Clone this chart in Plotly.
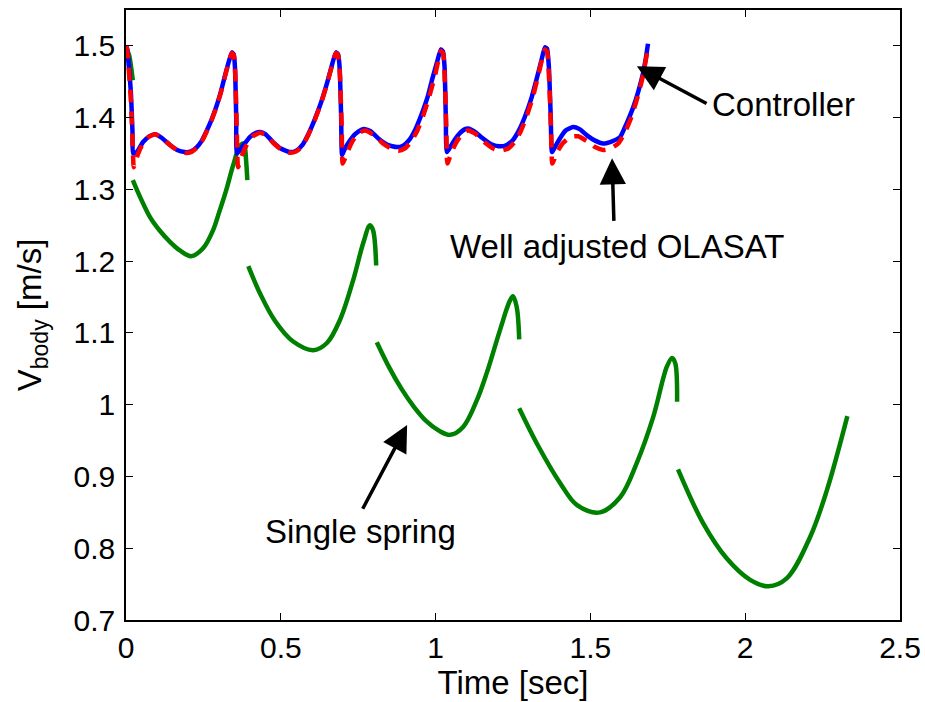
import plotly.graph_objects as go

# Controller (blue, solid)
ctrl_t = [0, 0.003, 0.015, 0.021, 0.023, 0.035, 0.055, 0.075, 0.094, 0.115, 0.142, 0.165, 0.19, 0.21, 0.229, 0.245,
          0.261, 0.277, 0.293, 0.307, 0.320, 0.332, 0.342, 0.348, 0.352, 0.356, 0.358,
          0.365, 0.38, 0.40, 0.42, 0.433, 0.45, 0.475, 0.50, 0.53, 0.55, 0.57, 0.59, 0.61, 0.63, 0.65, 0.665,
          0.678, 0.685, 0.69, 0.695, 0.698,
          0.705, 0.72, 0.74, 0.76, 0.772, 0.79, 0.815, 0.845, 0.875, 0.895, 0.915, 0.935, 0.955, 0.975, 0.99,
          1.005, 1.017, 1.024, 1.029, 1.033, 1.036,
          1.043, 1.06, 1.08, 1.095, 1.105, 1.125, 1.15, 1.18, 1.208, 1.23, 1.25, 1.27, 1.29, 1.31, 1.33, 1.343,
          1.353, 1.36, 1.366, 1.372, 1.376,
          1.383, 1.40, 1.42, 1.444, 1.465, 1.49, 1.515, 1.541, 1.57, 1.596, 1.615, 1.638, 1.655, 1.670, 1.678, 1.686]
ctrl_v = [1.50, 1.497, 1.44, 1.38, 1.350, 1.352, 1.366, 1.374, 1.377, 1.372, 1.362, 1.355, 1.352, 1.353, 1.359, 1.368,
          1.382, 1.398, 1.417, 1.437, 1.459, 1.478, 1.491, 1.488, 1.47, 1.40, 1.350,
          1.353, 1.362, 1.373, 1.379, 1.380, 1.377, 1.366, 1.357, 1.352, 1.354, 1.362, 1.378, 1.398, 1.421, 1.449, 1.473,
          1.491, 1.488, 1.47, 1.40, 1.348,
          1.355, 1.366, 1.377, 1.383, 1.384, 1.381, 1.371, 1.362, 1.359, 1.361, 1.369, 1.384, 1.405, 1.430, 1.455,
          1.478, 1.495, 1.492, 1.47, 1.40, 1.352,
          1.356, 1.368, 1.379, 1.384, 1.385, 1.381, 1.372, 1.363, 1.360, 1.362, 1.369, 1.383, 1.403, 1.428, 1.460, 1.482,
          1.498, 1.496, 1.47, 1.40, 1.352,
          1.357, 1.370, 1.382, 1.387, 1.384, 1.375, 1.368, 1.364, 1.367, 1.373, 1.39, 1.414, 1.437, 1.462, 1.48, 1.503]

# Well adjusted OLASAT (red, dashed)
olasat_t = [0, 0.003, 0.015, 0.022, 0.025, 0.035, 0.05, 0.07, 0.094, 0.115, 0.142, 0.165, 0.19, 0.21, 0.229, 0.245,
            0.261, 0.277, 0.293, 0.307, 0.320, 0.332, 0.342, 0.348, 0.353, 0.358, 0.362,
            0.375, 0.39, 0.41, 0.433, 0.45, 0.475, 0.50, 0.53, 0.55, 0.57, 0.59, 0.61, 0.63, 0.65, 0.665,
            0.678, 0.685, 0.691, 0.697, 0.700,
            0.715, 0.73, 0.75, 0.772, 0.80, 0.83, 0.86, 0.88, 0.90, 0.92, 0.94, 0.96, 0.98, 1.00,
            1.017, 1.024, 1.03, 1.035, 1.038,
            1.05, 1.065, 1.085, 1.105, 1.13, 1.16, 1.19, 1.21, 1.235, 1.255, 1.275, 1.295, 1.315, 1.335,
            1.353, 1.36, 1.367, 1.373, 1.377,
            1.39, 1.41, 1.435, 1.46, 1.49, 1.515, 1.541, 1.565, 1.59, 1.61, 1.63, 1.65, 1.668, 1.683]
olasat_v = [1.50, 1.497, 1.43, 1.36, 1.331, 1.345, 1.360, 1.372, 1.377, 1.372, 1.362, 1.355, 1.351, 1.352, 1.358, 1.367,
            1.381, 1.397, 1.416, 1.436, 1.458, 1.477, 1.490, 1.487, 1.46, 1.38, 1.331,
            1.348, 1.362, 1.374, 1.379, 1.376, 1.365, 1.356, 1.351, 1.353, 1.361, 1.377, 1.397, 1.420, 1.448, 1.472,
            1.490, 1.487, 1.46, 1.38, 1.336,
            1.352, 1.366, 1.378, 1.382, 1.376, 1.364, 1.356, 1.354, 1.357, 1.366, 1.381, 1.403, 1.430, 1.462,
            1.493, 1.490, 1.45, 1.38, 1.336,
            1.350, 1.364, 1.377, 1.382, 1.377, 1.365, 1.356, 1.354, 1.357, 1.366, 1.381, 1.403, 1.430, 1.465,
            1.495, 1.492, 1.45, 1.38, 1.336,
            1.350, 1.364, 1.373, 1.374, 1.367, 1.359, 1.355, 1.357, 1.364, 1.378, 1.398, 1.425, 1.455, 1.49]

# Single spring (green), separate segments joined by None gaps
spring_t = [0, 0.01, 0.016, 0.022, None,
            0.022, 0.045, 0.078, 0.11, 0.142, 0.174, 0.21, 0.249, 0.281, 0.30, 0.323, 0.345, 0.366, 0.378, 0.384,
            0.388, 0.392, None,
            0.395, 0.433, 0.481, 0.54, 0.605, 0.649, 0.691, 0.734, 0.766, 0.788, 0.798, 0.808, None,
            0.81, 0.85, 0.89, 0.93, 0.97, 1.01, 1.047, 1.089, 1.133, 1.165, 1.208, 1.24, 1.25, 1.262, 1.27, None,
            1.27, 1.327, 1.402, 1.457, 1.531, 1.596, 1.65, 1.703, 1.747, 1.764, 1.774, 1.78, None,
            1.783, 1.864, 1.94, 2.016, 2.075, 2.134, 2.21, 2.264, 2.33]
spring_v = [1.498, 1.487, 1.472, 1.452, None,
            1.313, 1.290, 1.261, 1.242, 1.227, 1.215, 1.207, 1.218, 1.243, 1.267, 1.298, 1.332, 1.359, 1.364, 1.358,
            1.34, 1.313, None,
            1.193, 1.155, 1.117, 1.088, 1.076, 1.086, 1.118, 1.174, 1.225, 1.250, 1.243, 1.194, None,
            1.087, 1.052, 1.022, 0.997, 0.977, 0.964, 0.958, 0.969, 1.006, 1.044, 1.104, 1.145, 1.151, 1.136, 1.091,
            None,
            0.995, 0.946, 0.891, 0.860, 0.850, 0.871, 0.919, 0.983, 1.053, 1.065, 1.058, 1.004, None,
            0.910, 0.835, 0.786, 0.756, 0.747, 0.758, 0.816, 0.881, 0.984]

x_ticks = [0, 0.5, 1, 1.5, 2, 2.5]
x_labels = ["0", "0.5", "1", "1.5", "2", "2.5"]
y_ticks = [0.7, 0.8, 0.9, 1.0, 1.1, 1.2, 1.3, 1.4, 1.5]
y_labels = ["0.7", "0.8", "0.9", "1", "1.1", "1.2", "1.3", "1.4", "1.5"]

FONT = "Liberation Sans, Arial, sans-serif"

fig = go.Figure()
fig.add_trace(go.Scatter(x=spring_t, y=spring_v, mode="lines", line=dict(color="rgb(0,128,0)", width=4.5),
                         line_shape="spline", connectgaps=False, showlegend=False))
fig.add_trace(go.Scatter(x=ctrl_t, y=ctrl_v, mode="lines",
                         line=dict(color="rgb(0,0,255)", width=4.5, shape="spline", smoothing=0.5),
                         showlegend=False))
fig.add_trace(go.Scatter(x=olasat_t, y=olasat_v, mode="lines",
                         line=dict(color="rgb(255,0,0)", width=4.5, dash="13px,9px", shape="spline",
                                   smoothing=0.5), showlegend=False))

# arrows: (head x, head y, tail x, tail y)
arrows = [(1.650, 1.4716, 1.880, 1.4187),
          (1.570, 1.3435, 1.576, 1.254),
          (0.908, 0.9716, 0.762, 0.853)]
for hx, hy, tx, ty in arrows:
    fig.add_annotation(x=hx, y=hy, ax=tx, ay=ty, xref="x", yref="y", axref="x", ayref="y",
                       text="", showarrow=True, arrowhead=2, arrowsize=1.5, arrowwidth=3.5,
                       arrowcolor="black")

lab_font = dict(family=FONT, size=33, color="black")
fig.add_annotation(x=1.886, y=1.4187, text="Controller", showarrow=False, xanchor="left", yanchor="middle",
                   font=lab_font)
fig.add_annotation(x=1.586, y=1.221, text="Well adjusted OLASAT", showarrow=False, xanchor="center",
                   yanchor="middle", font=lab_font)
fig.add_annotation(x=0.756, y=0.824, text="Single spring", showarrow=False, xanchor="center", yanchor="middle",
                   font=lab_font)

axis_common = dict(showline=True, linecolor="black", linewidth=1.5, mirror="ticks", ticks="inside",
                   ticklen=7, tickcolor="black", tickwidth=1, showgrid=False, zeroline=False, automargin=False,
                   tickfont=dict(family=FONT, size=30, color="black"))
fig.update_xaxes(range=[0, 2.5], tickvals=x_ticks, ticktext=x_labels, ticklabelstandoff=0,
                 title=dict(text="Time [sec]", font=lab_font, standoff=6),
                 **axis_common)
fig.update_yaxes(range=[0.7, 1.55], tickvals=y_ticks, ticktext=y_labels, ticklabelstandoff=3,
                 title=dict(text="V<sub>body</sub> [m/s]", font=lab_font, standoff=22),
                 **axis_common)
fig.update_layout(width=925, height=702, margin=dict(l=126, r=25, t=10, b=82),
                  plot_bgcolor="white", paper_bgcolor="white",
                  font=dict(family=FONT, size=30, color="black"))

fig.write_html("out.html", config={"displayModeBar": False},
               post_script="document.body.style.margin='0';")
